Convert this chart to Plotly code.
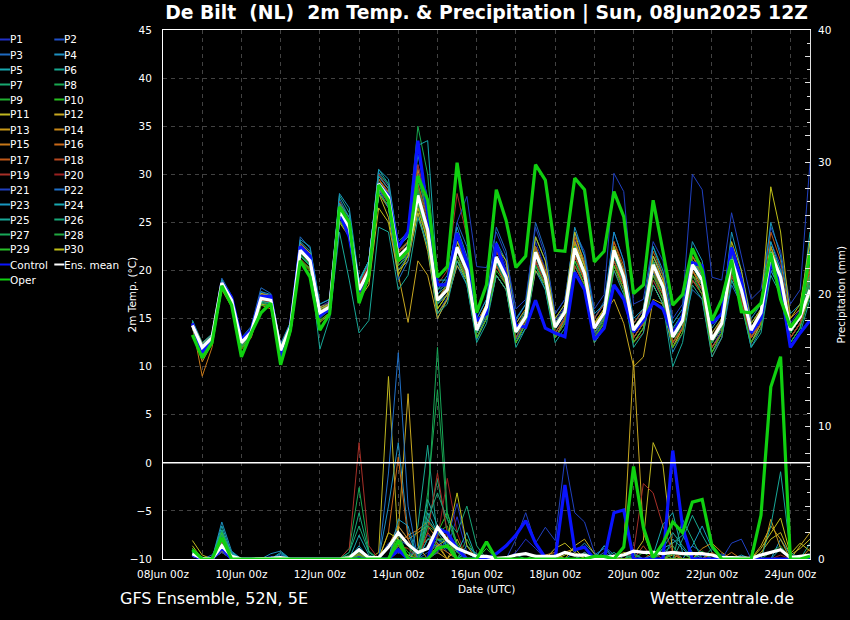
import plotly.graph_objects as go
import pandas as pd

# ---------------- time axis (6-hourly, run 08Jun2025 12Z) ----------------
times = pd.date_range("2025-06-08 18:00", periods=64, freq="6h")

member_names = ["P%d" % k for k in range(1, 31)]
member_colors = [
    "#2030c8", "#2050c8", "#1e6ac0", "#1e90c0", "#18a8b0", "#18a890", "#18a870", "#18a850",
    "#20b030", "#28c020", "#c0b820", "#c8a820", "#c89818", "#c88818", "#c87818", "#c86818",
    "#c05818", "#b84820", "#a83028", "#982020", "#2040c0", "#2070c8", "#1898c0", "#18a8b0",
    "#18a898", "#18a878", "#18a858", "#20a840", "#28c028", "#c0c018",
]

# ---------------- 2m temperature (deg C) ----------------
P01_temp = [14.1,11.6,12.7,18.9, 17.2,12.8,13.9,17.8, 17.3,12.0,14.4,22.9, 21.8,16.2,16.8,27.0, 25.2,18.6,20.4,29.8, 28.5,22.6,23.5,31.0, 26.5,17.5,18.5,23.5, 21.0,14.2,16.5,22.8, 20.5,14.5,15.8,23.0, 20.2,14.8,16.2,23.2, 20.8,15.0,16.5,24.0, 21.0,14.5,15.8,21.5, 19.0,13.8,15.4,22.0, 20.2,13.5,15.0,22.5, 19.2,14.5,16.0,23.0, 20.5,14.5,16.0,21.0]
P02_temp = [14.4,12.3,13.2,18.4, 16.6,12.3,13.4,16.8, 16.5,11.4,13.8,21.6, 20.5,15.2,15.8,25.5, 23.8,17.5,19.6,28.5, 27.0,20.5,21.8,28.5, 25.0,15.5,17.2,21.5, 19.2,13.0,15.4,20.5, 18.5,12.8,14.6,20.8, 18.6,13.5,15.2,21.5, 19.0,13.2,15.0,21.0, 18.5,13.0,14.6,19.8, 17.5,12.4,14.2,19.5, 18.2,12.0,13.8,20.0, 17.2,13.0,14.8,20.5, 18.5,13.0,14.5,17.5]
P03_temp = [14.6,12.2,13.4,19.2, 17.4,13.0,14.2,18.2, 17.6,12.4,14.6,23.5, 22.3,16.5,17.0,27.5, 25.5,19.0,21.0,30.2, 28.8,22.0,22.8,30.0, 25.5,18.0,19.0,25.0, 22.5,15.0,17.0,24.5, 22.0,14.8,16.5,25.0, 22.0,15.5,17.0,24.0, 21.5,15.0,16.8,22.0, 20.0,14.0,15.5,19.0, 17.0,12.5,14.0,18.0, 17.0,11.5,13.0,18.5, 16.5,12.5,14.5,20.0, 18.0,12.5,14.0,22.0]
P04_temp = [14.2,11.8,12.9,18.6, 16.8,12.4,13.5,17.0, 16.8,11.8,14.2,22.0, 20.8,15.0,16.0,26.8, 25.0,18.2,19.5,28.2, 26.5,20.0,21.5,26.0, 22.5,15.0,17.0,20.5, 18.5,12.8,15.0,19.5, 18.0,12.5,14.0,20.0, 18.0,13.0,14.8,20.5, 18.5,13.5,15.0,21.0, 18.8,13.0,14.5,18.5, 16.5,11.5,13.5,19.0, 18.0,12.0,13.5,19.5, 16.8,12.0,14.0,20.0, 18.0,12.5,14.0,23.0]
P05_temp = [14.8,12.5,13.4,19.0, 17.0,12.6,13.6,17.4, 16.9,11.9,14.0,22.4, 21.2,15.8,16.5,26.0, 24.0,17.5,19.8,28.8, 27.8,21.0,22.5,28.2, 24.5,17.0,18.5,23.0, 20.5,14.5,16.5,21.0, 19.0,13.0,15.0,22.5, 19.8,14.5,16.0,23.0, 20.5,14.0,15.5,21.5, 19.0,14.0,15.5,21.5, 19.5,14.0,15.5,21.0, 19.5,13.0,14.5,19.5, 17.0,13.0,15.0,22.5, 20.0,14.0,15.5,18.0]
P06_temp = [14.3,11.9,13.0,18.8, 16.9,12.4,13.3,17.2, 17.2,11.7,14.5,23.0, 22.0,16.0,16.6,27.8, 26.0,18.5,20.8,30.5, 29.0,21.0,21.5,28.5, 24.0,16.5,17.5,21.0, 19.5,13.5,16.0,20.8, 18.8,13.0,15.0,21.0, 19.0,13.5,15.0,21.0, 19.0,13.5,15.2,22.5, 20.0,14.5,16.0,22.5, 19.5,13.5,15.0,21.5, 19.8,13.0,14.0,19.0, 17.0,12.5,14.5,21.0, 19.0,13.0,14.5,20.0]
P07_temp = [14.0,11.4,12.6,18.2, 16.4,12.0,13.2,16.6, 16.4,11.2,13.8,21.5, 20.5,15.4,16.0,25.8, 24.5,18.2,20.2,29.2, 28.0,22.0,23.0,29.0, 25.0,17.5,18.5,23.5, 21.0,14.0,16.2,22.0, 20.0,14.0,15.8,21.5, 19.0,14.0,15.5,22.5, 19.5,13.5,15.0,20.5, 18.5,13.5,15.0,21.0, 18.5,13.0,14.5,20.0, 18.5,12.5,14.5,22.5, 19.0,14.5,16.0,21.5, 19.0,13.5,15.0,19.5]
P08_temp = [14.4,12.1,13.1,18.9, 17.1,12.7,13.8,17.4, 17.0,11.9,14.3,22.6, 21.4,16.0,16.6,27.2, 25.5,18.8,21.0,30.0, 29.0,23.0,24.0,35.0, 30.0,18.0,18.5,23.0, 20.5,13.5,15.5,21.5, 19.5,13.5,15.5,22.0, 19.5,14.0,15.8,22.0, 19.0,13.5,15.0,21.5, 19.0,13.0,14.5,20.0, 18.0,12.5,14.0,19.5, 18.5,12.5,14.5,21.5, 18.5,14.0,15.5,21.0, 18.5,13.5,15.0,18.5]
P09_temp = [14.1,11.7,12.8,18.5, 16.7,12.3,13.5,17.0, 16.6,11.5,13.9,21.8, 20.6,15.2,15.9,25.6, 23.8,17.6,19.6,28.0, 26.8,21.0,22.0,27.0, 23.5,16.5,18.0,22.0, 19.5,13.5,15.5,20.5, 18.8,13.5,15.0,21.0, 18.5,13.5,15.0,21.5, 19.0,13.0,14.8,21.0, 19.0,13.5,15.0,20.0, 17.5,12.5,14.5,20.5, 18.5,12.5,14.0,21.0, 18.0,13.5,15.0,22.0, 19.5,14.0,15.5,18.5]
P10_temp = [14.5,12.2,13.2,18.8, 17.0,12.7,13.7,17.0, 17.0,11.8,14.2,22.3, 21.2,15.8,16.3,26.4, 24.6,18.0,20.0,28.8, 27.2,21.5,22.5,28.0, 24.0,17.0,18.5,23.0, 20.5,14.0,16.0,21.5, 19.5,13.8,15.5,22.5, 20.0,14.5,16.0,22.8, 20.0,14.5,16.0,22.5, 19.5,14.0,15.5,21.0, 18.5,13.5,15.0,21.0, 19.5,13.0,15.0,21.5, 18.5,14.0,16.0,22.0, 19.5,14.0,15.5,18.5]
P11_temp = [14.2,11.5,12.9,18.3, 16.4,12.2,13.3,16.5, 16.3,11.0,13.6,21.0, 20.0,14.6,15.5,25.0, 23.5,17.0,19.0,28.0, 25.5,20.0,21.0,26.0, 22.0,15.5,17.0,21.0, 19.0,13.0,15.0,19.5, 18.0,12.5,14.5,20.0, 18.5,13.0,14.5,20.5, 18.5,12.5,14.0,20.5, 18.0,12.5,14.0,18.5, 16.5,12.0,14.0,19.0, 17.5,11.5,13.5,19.5, 17.0,12.5,14.5,20.5, 18.0,13.0,14.5,17.5]
P12_temp = [14.6,12.4,13.3,18.9, 17.1,12.8,13.9,17.6, 17.4,12.1,14.5,22.8, 21.8,16.2,16.6,26.8, 25.0,18.5,20.5,29.5, 28.0,19.6,14.6,21.0, 19.5,15.0,17.0,20.5, 19.0,13.5,15.5,21.0, 19.5,13.5,15.0,22.0, 20.0,14.5,16.0,23.0, 20.5,14.5,15.5,17.0, 14.5,10.0,11.0,17.0, 16.5,12.0,14.0,20.0, 18.5,12.5,14.5,21.5, 18.0,13.5,15.0,22.5, 19.5,13.5,15.0,19.5]
P13_temp = [14.3,12.0,13.0,18.7, 17.0,12.5,13.6,17.3, 17.1,11.8,14.3,22.5, 21.3,15.8,16.4,26.8, 24.8,18.2,20.3,29.5, 28.0,21.8,23.0,30.5, 26.0,17.5,18.5,22.5, 20.0,13.5,15.8,21.5, 19.5,13.5,15.0,22.5, 19.5,14.0,15.5,23.0, 20.0,13.5,15.0,22.5, 19.5,13.5,15.0,21.0, 18.5,13.0,14.5,21.5, 19.5,12.5,14.0,22.0, 18.5,13.5,15.5,22.5, 19.5,13.5,15.0,18.0]
P14_temp = [14.0,10.5,12.4,18.0, 16.2,11.8,13.0,16.4, 16.0,10.8,13.5,21.2, 20.2,14.8,15.6,25.2, 23.5,17.2,19.2,28.0, 26.5,20.8,21.8,27.0, 23.0,16.0,17.5,21.5, 19.0,13.0,15.0,20.5, 18.5,12.5,14.5,21.0, 18.5,13.0,15.0,21.5, 19.0,13.0,14.5,20.5, 18.5,12.5,14.0,19.5, 17.5,12.5,14.0,20.0, 18.0,12.0,13.5,20.0, 17.5,13.0,14.5,21.0, 18.5,13.0,14.5,19.5]
P15_temp = [14.4,9.0,12.0,18.2, 16.5,12.0,13.2,16.8, 16.6,11.3,13.9,22.0, 21.0,15.5,16.2,26.5, 25.0,18.5,20.5,29.0, 27.0,21.5,22.5,28.5, 25.0,17.0,18.0,22.5, 20.0,14.0,16.0,22.0, 20.0,14.0,15.5,22.0, 19.5,14.5,16.0,22.5, 20.0,14.5,16.0,23.0, 20.0,14.0,15.5,21.0, 19.0,13.5,15.0,21.0, 19.5,13.0,14.5,21.5, 18.5,14.0,15.5,22.0, 19.5,14.0,15.5,20.5]
P16_temp = [14.2,11.8,12.9,18.6, 16.8,12.4,13.5,17.0, 17.0,11.6,14.0,22.2, 21.0,15.5,16.2,26.0, 24.0,17.8,19.8,28.5, 27.5,21.0,22.0,27.5, 24.5,17.0,18.5,23.5, 21.0,14.5,16.5,22.5, 20.0,14.0,15.5,21.5, 19.0,13.5,15.0,21.5, 19.0,13.5,15.0,21.0, 18.5,13.0,14.5,20.0, 18.0,12.5,14.0,20.0, 18.5,12.5,14.0,20.5, 17.5,13.0,15.0,21.5, 19.0,13.5,15.0,19.0]
P17_temp = [14.5,12.1,13.1,18.8, 17.0,12.6,13.7,17.2, 17.0,11.8,14.2,22.4, 21.5,16.0,16.5,27.0, 25.0,18.5,20.5,29.5, 28.2,22.0,23.0,29.0, 25.5,17.5,18.5,23.0, 20.5,14.0,16.0,22.0, 20.0,14.0,15.5,22.5, 20.0,14.5,16.0,23.5, 21.0,15.0,16.5,23.0, 20.5,14.5,16.0,22.0, 19.5,13.5,15.0,21.5, 20.0,13.0,15.0,22.0, 19.0,14.0,16.0,24.0, 21.0,15.0,16.0,20.0]
P18_temp = [14.3,12.0,13.0,18.7, 16.9,12.5,13.6,17.1, 16.8,11.6,14.0,22.0, 20.8,15.4,16.0,26.0, 24.0,17.5,19.5,28.5, 27.0,20.5,21.5,27.0, 23.5,16.5,17.5,21.5, 19.5,13.5,15.5,20.5, 18.5,13.0,14.8,21.0, 18.5,13.5,15.0,21.5, 19.0,13.5,15.0,21.0, 18.5,13.0,14.5,19.5, 17.5,12.5,14.0,19.5, 18.0,12.0,13.5,20.0, 17.0,13.0,14.5,21.0, 18.5,13.0,14.5,18.0]
P19_temp = [14.1,11.6,12.8,18.5, 16.7,12.3,13.4,16.9, 16.7,11.5,13.9,21.9, 21.0,15.6,16.3,26.5, 25.0,18.5,20.5,30.0, 28.5,22.5,23.5,31.0, 27.0,18.5,20.0,28.0, 23.5,14.5,16.5,22.0, 20.0,13.5,15.0,21.0, 18.5,13.0,14.5,20.5, 18.5,13.0,14.5,20.0, 18.0,12.5,13.5,19.0, 17.0,12.0,13.5,19.0, 17.5,11.0,13.0,19.5, 17.0,12.5,14.0,21.0, 18.5,13.0,14.5,18.5]
P20_temp = [14.4,12.2,13.2,18.9, 17.2,12.8,13.8,17.5, 17.3,12.0,14.4,22.7, 21.7,16.0,16.7,27.2, 25.2,18.5,20.5,29.8, 28.5,22.0,22.5,28.5, 25.0,17.5,18.5,22.0, 20.0,14.0,16.0,21.5, 19.5,13.5,15.0,22.0, 19.5,14.0,15.5,22.0, 19.5,14.0,15.5,22.0, 19.5,13.5,15.0,20.5, 18.5,13.0,14.5,20.5, 19.0,12.5,14.0,21.0, 18.0,13.5,15.0,21.5, 19.0,13.5,15.0,19.0]
P21_temp = [14.2,11.8,12.9,18.6, 16.9,12.5,13.6,17.3, 17.0,11.8,14.2,22.3, 21.2,15.6,16.4,26.5, 24.5,18.0,20.0,29.0, 27.5,21.5,22.5,28.0, 24.5,17.5,19.0,25.0, 27.7,20.4,20.3,24.0, 21.5,16.0,17.0,24.5, 21.5,15.5,17.0,24.0, 22.0,16.0,17.5,30.1, 28.2,16.5,17.0,23.0, 21.0,15.0,16.5,30.0, 28.4,19.3,19.0,26.0, 21.5,17.0,18.0,24.5, 22.0,16.5,18.0,31.2]
P22_temp = [14.3,11.9,13.0,18.6, 16.8,12.4,13.5,17.0, 17.0,11.7,14.1,22.0, 21.0,15.5,16.0,26.5, 24.5,18.0,19.8,28.5, 26.5,19.0,21.0,27.0, 24.0,16.5,17.5,22.0, 20.0,13.5,15.5,21.5, 19.0,13.5,15.0,21.5, 19.0,14.0,15.5,22.0, 19.5,14.0,15.5,22.0, 19.0,13.5,15.0,20.5, 18.0,13.0,14.5,20.5, 19.0,12.5,14.5,21.0, 18.0,13.5,15.5,21.5, 19.0,13.5,15.0,19.0]
P23_temp = [14.5,12.3,13.3,19.0, 17.2,12.9,14.0,17.8, 17.5,12.2,14.6,23.2, 22.5,16.5,17.0,28.0, 26.5,19.0,21.0,30.5, 29.5,22.5,23.5,32.0, 27.5,18.0,19.5,24.5, 21.5,15.0,17.0,23.0, 21.0,15.0,16.5,23.5, 21.0,15.0,16.5,24.5, 21.5,15.5,16.5,24.0, 21.0,15.0,16.0,22.5, 20.0,14.5,16.0,23.0, 21.0,14.0,15.5,24.0, 20.0,15.0,16.5,25.0, 21.5,15.5,16.5,22.0]
P24_temp = [14.6,12.2,13.2,18.8, 17.0,12.6,13.7,17.3, 17.2,12.0,14.3,22.6, 21.5,16.0,16.6,27.0, 25.5,18.8,21.0,29.8, 28.5,22.5,23.5,33.0, 33.5,19.0,19.0,24.0, 20.5,14.0,16.0,21.5, 19.5,13.5,15.0,22.0, 19.5,14.5,16.0,22.5, 20.0,14.0,15.5,22.0, 19.5,13.5,15.0,21.0, 18.5,13.0,14.5,21.0, 19.5,12.5,14.5,21.5, 18.5,14.0,15.5,23.0, 20.0,14.0,15.5,24.0]
P25_temp = [14.8,12.0,13.0,18.5, 16.6,12.2,13.3,16.8, 16.6,11.4,13.8,21.5, 20.5,11.8,15.0,24.0, 19.0,13.5,14.8,24.5, 24.0,18.0,19.5,25.5, 22.5,15.5,16.5,21.0, 18.5,12.5,14.5,19.5, 18.0,12.0,14.0,20.5, 18.0,12.5,14.0,20.0, 18.0,12.5,14.0,20.0, 17.5,12.0,13.5,18.5, 16.5,10.0,12.5,18.5, 17.0,11.0,13.0,19.0, 16.5,12.0,13.5,19.5, 17.5,12.0,13.5,17.0]
P26_temp = [14.2,11.7,12.8,18.6, 16.8,12.4,13.5,17.1, 16.8,11.6,14.0,22.2, 21.0,15.5,16.2,26.2, 24.5,18.0,20.0,29.0, 27.5,21.0,22.0,28.0, 24.0,16.5,18.0,22.5, 20.0,13.5,15.5,21.0, 19.0,13.5,15.0,21.5, 19.0,14.0,15.5,22.0, 19.5,13.5,15.0,21.5, 19.0,13.5,15.0,20.5, 18.0,13.0,14.5,20.5, 18.5,12.5,14.0,20.5, 17.5,13.5,15.0,21.5, 19.0,13.5,15.0,18.5]
P27_temp = [14.0,11.3,12.6,18.3, 16.5,12.1,13.3,16.7, 16.4,11.3,13.8,21.6, 20.5,15.2,16.0,25.8, 24.2,17.8,19.8,28.6, 27.5,21.5,22.5,29.5, 26.0,17.5,18.5,23.5, 20.5,14.0,16.0,21.5, 19.5,13.8,15.5,22.0, 19.5,14.0,15.5,22.5, 20.0,14.0,15.5,22.5, 19.5,14.0,15.5,21.0, 18.5,13.5,15.0,21.0, 19.0,13.0,14.5,21.5, 18.0,14.0,15.5,22.0, 19.5,14.0,15.5,19.5]
P28_temp = [14.3,12.0,13.1,18.8, 17.0,12.6,13.6,17.1, 17.0,11.7,14.1,22.2, 21.1,15.7,16.3,26.4, 24.6,18.1,20.1,29.1, 27.8,21.6,22.6,28.5, 24.5,17.0,18.0,22.5, 20.0,14.0,16.0,21.5, 19.5,13.5,15.5,22.0, 19.5,14.0,15.5,22.5, 20.0,14.0,15.5,22.0, 19.5,13.5,15.0,20.5, 18.5,13.0,14.5,20.5, 19.0,12.5,14.5,21.0, 18.0,13.5,15.5,21.5, 19.5,13.5,15.0,19.0]
P29_temp = [14.1,11.2,12.5,18.2, 16.4,11.9,13.1,16.4, 16.2,10.8,13.4,21.0, 20.2,14.8,15.6,25.2, 23.6,17.2,19.2,28.0, 26.8,20.5,21.5,27.0, 23.0,16.0,17.5,21.5, 19.0,13.0,15.0,20.0, 18.5,12.5,14.5,20.5, 18.5,13.0,14.5,21.0, 18.5,13.0,14.5,20.5, 18.0,12.5,14.0,19.5, 17.0,12.0,13.5,19.5, 17.5,11.5,13.5,20.0, 16.5,12.5,14.0,20.5, 18.0,12.5,14.0,17.5]
P30_temp = [14.5,12.1,13.2,18.8, 17.1,12.7,13.8,17.6, 17.3,12.0,14.4,22.6, 21.5,16.0,16.5,26.5, 24.0,17.0,18.5,26.5, 25.0,19.5,21.5,26.5, 23.0,16.0,17.5,23.0, 21.0,14.5,16.5,22.5, 21.0,14.5,16.0,23.5, 21.0,15.0,16.5,24.0, 20.5,14.5,16.0,22.5, 19.5,14.0,15.5,21.5, 19.0,13.5,15.0,22.0, 20.5,13.5,15.0,23.0, 20.0,14.5,16.0,28.7, 24.0,15.0,16.5,23.0]

control_temp = [14.5,11.5,12.8,18.7, 17.2,12.8,13.8,17.3, 17.3,11.0,14.2,22.5, 21.5,15.3,16.0,26.0, 23.5,17.8,20.0,29.0, 27.8,22.4,24.0,33.5, 26.0,18.5,18.5,23.9, 20.8,14.8,15.5,22.8, 19.5,14.3,14.1,16.9, 14.0,13.5,13.1,19.8, 18.0,12.8,14.0,18.5, 17.0,13.6,14.8,16.7, 16.0,13.3,15.2,20.8, 20.5,14.5,15.5,22.4, 19.0,13.5,15.0,20.8, 18.5,12.0,13.5,14.8]
oper_temp = [13.3,10.9,12.5,18.4, 16.4,11.0,13.5,15.6, 16.6,10.2,13.8,21.0, 19.3,13.8,15.5,26.6, 25.0,16.6,19.5,28.9, 27.3,21.0,22.1,29.8, 27.3,19.3,20.4,31.2, 24.2,15.6,18.5,28.4, 25.2,20.3,21.5,31.0, 29.4,22.1,22.0,29.6, 28.4,20.9,22.0,28.2, 25.6,17.6,18.5,27.3, 22.0,16.4,17.5,22.3, 20.0,14.8,17.0,21.1, 15.7,15.6,16.6,21.8, 17.0,14.1,15.5,21.8]
mean_temp = [14.3,12.0,13.0,18.7, 16.9,12.5,13.6,17.1, 16.9,11.7,14.1,22.1, 21.0,15.6,16.2,26.3, 24.5,18.0,20.0,29.0, 27.6,21.4,22.4,27.8, 24.2,16.9,18.0,22.4, 20.0,13.8,16.2,21.4, 19.3,13.6,15.2,21.9, 19.3,14.1,15.7,22.3, 19.7,14.0,15.6,22.1, 19.3,13.8,15.2,20.6, 18.3,13.1,14.8,20.6, 19.0,12.8,14.5,21.1, 18.0,13.8,15.6,21.8, 19.3,13.8,15.2,18.0]

# ---------------- precipitation (mm / 6h) ----------------
P01_prec = [0.3,0,0,1.2, 0.2,0,0,0, 0.2,0,0,0, 0,0,0,0,
            0,0,0,0, 0,0.5,0.2,0.8, 1.8,1.2,0.8,3.2, 0.5,0,0.2,0,
            0,0.5,1.5,0.8, 0,0,0,0, 0.3,0,0,0, 0,0.5,0,0,
            0,0.5,0,0, 0.3,0,0,0, 0,0,0,0, 0,0,0,0]
P02_prec = [0.2,0,0,0.8, 0,0,0,0, 0,0,0,0, 0,0,0,0,
            0,0,0,0, 1.2,1.5,1.0,0, 0.5,1.0,1.0,0, 0,0,0,0,
            0,0,0,0, 0.3,0,0,0, 0,0,0.5,0, 0,0,0,0,
            0,0,0,0, 0,0,0.4,0, 0,0,0,0, 0,0,0,0]
P03_prec = [0.5,0,0.3,1.5, 0.4,0,0,0, 0,0.3,0,0, 0,0,0,0,
            0,0.3,0,0, 0,2.5,1.5,0, 0,1.5,0.5,0, 0,0,0,0,
            0,0,0,0, 0,0,0,0, 0,0,1.0,0.3, 0,0,0,0,
            0,0,0,1.0, 0.5,0,0,0, 0,0,0,0, 0,0,0,0]
P04_prec = [0.4,0,0,2.8, 0.6,0,0,0, 0.4,0.6,0,0, 0,0,0,0,
            0,0.5,0,0, 4.0,8.8,2.0,0, 1.0,1.0,1.0,0, 0,0,0,0,
            0,0,0,0, 0,0,0,0.5, 1.2,0.4,0,0, 0,0,0,0,
            0,1.5,0.8,0, 0,0,0,0, 0,0,0,0, 1.5,0.3,0,0]
P05_prec = [0.3,0,0,2.2, 0.3,0,0,0, 0,0.5,0,0, 0,0,0,0,
            0,0.4,0,0, 0,1.5,0,0, 3.5,2.0,1.5,0, 0.5,0,0,0,
            0,0,0,0, 0,0.3,0,0, 0,0,0,0, 0,0,0,0,
            0.8,1.2,1.8,0.5, 0,0,0,0, 0,0,0,0, 0,0,0,0]
P06_prec = [0.2,0,0,1.8, 0.5,0,0,0, 0,0,0,0, 0,0,0,0,
            0,0.2,0,0, 0,0,0,2.5, 8.6,1.5,1.2,0, 0,0,0,0,
            0,0,0,0, 0,0,0,0, 0,0,0,0, 0.4,0,0,0,
            0,0,1.5,3.3, 1.8,0.5,0,0, 0,0,0,0, 0,0,0,0]
P07_prec = [0.6,0,0,2.0, 0,0,0,0, 0,0,0,0, 0,0,0,0,
            0.5,2.5,0.5,0, 0,1.2,0,0, 2.5,6.0,2.0,0.5, 0,0,0,0,
            0,0.3,0,0, 0,0,0,0, 0,0,0,0, 0,0,0,0,
            0.5,1.0,0,0, 0,0.8,0.2,0, 0,0,0,0, 0,0,0,0]
P08_prec = [0.4,0,0,1.6, 0.2,0,0,0, 0,0,0,0, 0,0,0,0,
            0.8,5.4,0.6,0, 0,2.0,0,0, 5.0,12.8,3.0,1.0, 0,0,0,0,
            0,0,0,0, 0,0,0,0, 0,0,0,0, 0,0.3,0,0,
            0,0,0.5,0, 0,0,0,0, 0,0,0,0.5, 1.0,0,0,0]
P09_prec = [0.5,0,0,1.4, 0,0,0,0, 0,0,0,0, 0,0,0,0,
            0,0.3,0,0, 0,2.0,1.0,0, 1.5,2.0,2.5,0, 1.5,0,1.3,0,
            0,0,0,0, 0,0,0,0, 0,0.2,0,0, 0,0,0,0,
            0,0,0,0, 0.6,0,0,0, 0,0,0,0, 0,0,0,0]
P10_prec = [0.7,0,0,1.6, 0.3,0,0,0, 0,0,0,0, 0,0,0,0,
            0,0.2,0,0, 0,1.5,0.5,0, 0,2.0,3.5,1.2, 0,0,1.3,0,
            0,0,0,0, 0,0,0,0, 0,0,0,0, 0,0,0.5,0,
            0,0.6,0,0, 0,0,0,0, 0,0,0,0, 0,0,0,0]
P11_prec = [1.4,0.3,0,0.6, 0,0,0,0, 0,0,0,0, 0,0,0,0,
            0,0,0,0.5, 13.8,1.0,0.3,0, 0,1.0,0,1.5, 0,0,0,0,
            0,0,0,0, 0,0.8,1.2,0.5, 0,0,0,0, 0.5,0.3,1.4,8.8,
            7.1,0.5,0,0, 0,0,0,0, 0,0,0.5,1.5, 2.0,0.3,0.8,1.5]
P12_prec = [0.8,0,0,0.5, 0,0,0,0, 0,0,0,0, 0,0,0,0,
            0,0,0,0, 0,2.0,12.5,1.0, 0,0.5,0,0.8, 0,0,0,0,
            0,0,0,0, 0,0,0,1.0, 1.5,0.4,0,0, 1.0,15.0,2.0,0,
            0,0.3,0,0, 0,0,0,0, 0,0,1.0,2.5, 1.5,0,1.0,2.0]
P13_prec = [0.6,0,0,0.8, 0,0,0,0, 0,0,0,0, 0,0,0,0,
            0,0.3,0,0, 0,1.5,0,0.8, 1.5,1.2,0,0, 0,0,0,0,
            0,0,0,0, 0,0,0.5,0.8, 0,0,0,0, 0,0,0,0,
            0,0,0,0, 0,0.4,0,0, 0,0,0,3.0, 0.8,0,0,0]
P14_prec = [0.3,0,0,1.0, 0,0,0,0, 0,0,0,0, 0,0,0,0,
            0,0,0,0, 1.0,2.5,1.5,2.0, 2.5,1.5,1.5,0, 0,0,0,0,
            0,0,0,0, 0.3,0.5,0,0, 0,0,0,0, 0,0,0,0,
            0,0,0,0, 0.8,1.2,0.5,0, 0,0,0,0, 0,0,0,0.8]
P15_prec = [0.5,0,0,0.9, 0,0,0,0, 0,0,0,0, 0,0,0,0,
            0,0,0,0, 0,1.2,1.8,2.2, 2.8,2.0,2.0,0.6, 0,0,0,0,
            0,0,0,0, 0,0,0,0, 0.5,0,0,0, 0,0,0,0,
            0,0,0,0, 0,0,0,0.5, 0,0,0,0, 0,0,0,0]
P16_prec = [0.2,0,0,1.3, 0,0,0,0, 0,0,0,0, 0,0,0,0,
            0,0.4,0,0, 2.0,7.7,1.5,0, 0,1.0,0.5,0, 0,0,0,0,
            0,0,0,0, 0,0,0,0, 0,0,0,0, 0,0,0,0,
            0,0,0.5,0, 0,0,0,0, 0,0,0,0, 0,0,0,0]
P17_prec = [0.4,0,0,0.7, 0,0,0,0, 0,0,0,0, 0,0,0,0,
            0,0.3,0,0, 0,1.0,0,0, 2.0,1.0,1.0,0, 0,0,0,0,
            0,0,0,0, 0,0,0,0, 0,0,0,0, 0,0,0,0.5,
            0,0,0,0, 0,0.5,0,0, 0,0,0,0, 0,0,0,0]
P18_prec = [0.3,0,0,1.1, 0,0,0,0, 0,0,0,0, 0,0,0,0,
            0,0.5,0,0, 0,1.0,0.8,0, 0,2.0,1.8,0, 0,0,0,0,
            0,0,0,0, 0,0,0,0, 0,0,0,0, 0,0,1.0,0,
            0,0.5,0,0, 0,0,0,0, 0,0,0,0, 0,0,0,0]
P19_prec = [0.2,0,0,0.9, 0,0,0,0, 0,0,0,0, 0,0,0,0,
            0.8,8.8,1.0,0, 0,1.5,0,0, 2.0,6.5,2.0,0, 0,0,0,0,
            0,0,0,0, 0,0,0,0, 0,0,0,0, 0,0.5,5.7,5.0,
            2.5,0.5,0,0, 0,0,0,0, 0,0,0,0, 0,0,0,0]
P20_prec = [0.3,0,0,1.5, 0,0,0,0, 0,0,0,0, 0,0,0,0,
            0,0.6,0,0, 0,1.0,0,0, 0,1.5,6.1,2.0, 0,0,0,0,
            0,0,0,0, 0,0,0,0, 0,0,0,0.3, 0,0,0,0,
            0,0,0,0, 0,0,0,0, 0,0,0,0, 0.3,0,0,0]
P21_prec = [0.3,0,0,0.5, 0,0,0,0, 0,0,0,0, 0,0,0,0,
            0,0.2,0,0, 0,0.8,0,0, 0,0.5,1.5,4.2, 1.0,0.3,0,0,
            0,1.5,3.5,1.2, 2.4,1.4,7.6,3.5, 2.8,0.5,0,0, 0,0,0,0,
            0,0,0,0, 0,0,0,1.2, 1.5,0,0,0, 0,0,0,0]
P22_prec = [0.4,0,0,1.8, 0.3,0,0,0, 0,0,0,0, 0,0,0,0,
            0,0.8,0,0, 6.5,15.6,4.0,0, 1.0,1.0,0.8,0, 0,0,0,0,
            0,0,0,0, 0,0,0,0, 0,0.3,0.8,0, 0,0,0,0,
            0,0,0,0, 0,0,0.3,0, 0,0,0,0, 0,0,0,0]
P23_prec = [0.5,0,0,1.9, 0.5,0,0,0, 0,0.4,0,0, 0,0,0,0,
            0,1.0,0,0, 0,3.0,2.5,0, 1.5,1.5,1.0,0, 0.5,0,0,0,
            0,0,0,0, 0,0,0,0, 0.5,0,1.0,0, 0,0,0,0,
            0,0,0,1.0, 2.5,0.8,0,0, 0.3,0,0,0, 0,0,0,0]
P24_prec = [0.5,0,0,2.5, 0.4,0,0,0, 0,0,0,0, 0,0,0,0,
            0,1.8,0.3,0, 0,1.5,0,0.8, 4.5,2.5,2.0,0.5, 2.0,0,0,0,
            0,0,0,0, 0,0,0,0, 0,0,0,0, 0,0,0,0.3,
            2.6,3.5,0.5,0, 0,0,0,0, 0,0,0,0, 0.8,0,0,0]
P25_prec = [0.3,0,0,2.0, 0,0,0,0, 0,0,0,0, 0,0,0,0,
            0,0.8,0,0, 0,0,0,0, 3.0,2.0,1.0,0, 1.0,0.4,0,0,
            0,0,0,0, 0,0,0,0, 0,0,0,0.5, 0,0,0,0,
            0.8,2.0,1.0,0, 0,0,0,0, 0,0,0,2.5, 6.6,0.5,0,1.2]
P26_prec = [0.4,0,0,2.2, 0,0,0,0, 0,0,0,0, 0,0,0,0,
            0.5,3.5,0.5,0, 0,0,0,0, 3.0,5.0,3.0,2.0, 4.0,1.0,0,0,
            0,0,0,0, 0,0,0,0, 0,0,0,0, 0,0.4,0,0,
            0,0,3.0,1.5, 0,0,0,0, 0,0,0,0, 0,0,0,0]
P27_prec = [0.5,0,0,1.8, 0,0,0,0, 0,0,0,0, 0,0,0,0,
            0.3,0.6,0,0, 0,1.5,0,0, 4.0,16.0,3.5,1.0, 0,0,0,0,
            0,0,0,0, 0,0,0,0, 0,0,0,0, 0.3,0,0,0,
            0,0,0,0, 0.5,0,0,0, 0,0,0,0, 0,0,0,0]
P28_prec = [0.6,0,0,1.5, 0,0,0,0, 0,0,0,0, 0,0,0,0,
            0,0.5,0,0, 0,2.0,0,0, 2.5,2.0,2.0,0, 0,0,0,0,
            0,0,0,0, 0,0,0,0, 0,0,0,0, 0,0,0,0,
            0.5,0,0,0, 0,0,0,0, 0,0,0,0, 0,0,0,0]
P29_prec = [0.8,0,0,2.0, 0.3,0,0,0, 0,0,0,0, 0,0,0,0,
            0,0.3,0,0, 0,1.0,0,0, 0,1.5,1.5,0, 0,0,0.8,0,
            0,0,0,0.3, 0,0,0,0, 0,0,0,0, 0,0,0,0,
            0,0.4,0.4,0, 0,0,0,0, 0,0,0,0, 0,0,0,0]
P30_prec = [1.0,0,0,0.7, 0,0,0,0, 0,0,0,0, 0,0,0,0,
            0,0,0,0, 2.0,1.5,0,0, 0,1.0,1.5,5.0, 1.0,0,0,0,
            0,0,0,0, 0,0,0.3,0.8, 0,0,0,0, 0,0,0,0,
            0,0,0,0, 0,0,0,0, 0,0,0.8,2.0, 3.1,0.4,1.2,0.6]

control_prec = [0.3,0,0,0.8, 0,0,0,0, 0,0,0,0, 0,0,0,0,
                0,0,0,0, 0,0.7,0,0, 0,2.3,2.0,0.8, 0,0,0,0.4,
                1.0,1.8,2.9,1.2, 0.1,0,5.6,0.7, 0.9,0,0,3.5, 3.7,0,0,0,
                0,8.2,2.4,0, 0,0,0,0, 0,0,0,0, 0,0,0,0]
oper_prec = [0.7,0,0,1.6, 0,0,0,0, 0,0,0,0, 0,0,0,0,
             0,0,0,0, 0,1.4,0,0, 0,0.8,1.0,0, 0,0,1.3,0,
             0,0,0,0, 0,0,0,0, 0,0.2,0.2,0, 0.9,7.0,2.4,0.1,
             1.2,2.8,2.0,4.3, 4.5,1.0,0,0, 0,0,3.3,13.0, 15.3,0,0,0.2]
mean_prec = [0.4,0.05,0.02,1.0, 0.2,0,0,0, 0.05,0.1,0,0, 0,0,0,0,
             0.1,0.7,0.1,0.1, 0.9,2.0,1.1,0.5, 0.8,2.4,1.4,0.8, 0.5,0.2,0.2,0.05,
             0.1,0.3,0.4,0.2, 0.2,0.2,0.5,0.3, 0.3,0.05,0.1,0.2, 0.3,0.6,0.5,0.5,
             0.4,0.5,0.4,0.4, 0.4,0.3,0.1,0.1, 0.1,0.05,0.3,0.5, 0.7,0.1,0.2,0.3]

# precipitation-axis tick marks: every 2 mm (labelled every 10 mm), minor every 1 mm
prec_tickvals = list(range(0, 41, 2))
prec_ticktext = [str(v) if v % 10 == 0 else "" for v in prec_tickvals]

member_temps = [P01_temp, P02_temp, P03_temp, P04_temp, P05_temp, P06_temp, P07_temp, P08_temp,
                P09_temp, P10_temp, P11_temp, P12_temp, P13_temp, P14_temp, P15_temp, P16_temp,
                P17_temp, P18_temp, P19_temp, P20_temp, P21_temp, P22_temp, P23_temp, P24_temp,
                P25_temp, P26_temp, P27_temp, P28_temp, P29_temp, P30_temp]
member_precs = [P01_prec, P02_prec, P03_prec, P04_prec, P05_prec, P06_prec, P07_prec, P08_prec,
                P09_prec, P10_prec, P11_prec, P12_prec, P13_prec, P14_prec, P15_prec, P16_prec,
                P17_prec, P18_prec, P19_prec, P20_prec, P21_prec, P22_prec, P23_prec, P24_prec,
                P25_prec, P26_prec, P27_prec, P28_prec, P29_prec, P30_prec]

CONTROL_C, MEAN_C, OPER_C = "#0a14ff", "#ffffff", "#10d010"

# ---------------- figure ----------------
fig = go.Figure()

for name, col, t in zip(member_names, member_colors, member_temps):
    fig.add_trace(go.Scatter(x=times, y=t, mode="lines", name=name, showlegend=False,
                             line=dict(color=col, width=1), yaxis="y", hoverinfo="skip"))
fig.add_trace(go.Scatter(x=times, y=control_temp, mode="lines", name="Control", showlegend=False,
                         line=dict(color=CONTROL_C, width=3.2), yaxis="y"))
fig.add_trace(go.Scatter(x=times, y=mean_temp, mode="lines", name="Ens. mean", showlegend=False,
                         line=dict(color=MEAN_C, width=3.2), yaxis="y"))
fig.add_trace(go.Scatter(x=times, y=oper_temp, mode="lines", name="Oper", showlegend=False,
                         line=dict(color=OPER_C, width=3.2), yaxis="y"))

for name, col, p in zip(member_names, member_colors, member_precs):
    fig.add_trace(go.Scatter(x=times, y=p, mode="lines", name=name + " precip", showlegend=False,
                             line=dict(color=col, width=1), yaxis="y2", hoverinfo="skip"))
fig.add_trace(go.Scatter(x=times, y=control_prec, mode="lines", name="Control precip", showlegend=False,
                         line=dict(color=CONTROL_C, width=3.2), yaxis="y2"))
fig.add_trace(go.Scatter(x=times, y=mean_prec, mode="lines", name="Ens. mean precip", showlegend=False,
                         line=dict(color=MEAN_C, width=3.2), yaxis="y2"))
fig.add_trace(go.Scatter(x=times, y=oper_prec, mode="lines", name="Oper precip", showlegend=False,
                         line=dict(color=OPER_C, width=3.2), yaxis="y2"))

# ---------------- layout geometry (pixels) ----------------
W, H = 850, 620
L, R, T, B = 163, 810, 30, 559

def xp(px):
    return (px - L) / (R - L)

def yp(py):
    return (B - py) / (B - T)

GRID = "#424242"
FONT = "DejaVu Sans"

shapes = []
annotations = []

# manual two-column legend
legend_entries = list(zip(member_names, member_colors)) + [("Control", CONTROL_C), ("Ens. mean", MEAN_C), ("Oper", OPER_C)]
for k, (name, col) in enumerate(legend_entries):
    row, c = divmod(k, 2)
    y_row = 39.5 + 15 * row
    x0 = 0 if c == 0 else 54.3
    shapes.append(dict(type="line", xref="paper", yref="paper",
                       x0=xp(x0), x1=xp(x0 + 10), y0=yp(y_row), y1=yp(y_row),
                       line=dict(color=col, width=2)))
    annotations.append(dict(text=name, xref="paper", yref="paper", x=xp(x0 + 8), y=yp(y_row),
                            xanchor="left", yanchor="middle", showarrow=False,
                            font=dict(family=FONT, size=10.5, color="white")))

# zero line of the temperature axis
shapes.append(dict(type="line", xref="paper", yref="y", x0=0, x1=1, y0=0, y1=0,
                   line=dict(color="white", width=1.6), layer="above"))

# axis titles
annotations.append(dict(text="2m Temp. (°C)", xref="paper", yref="paper", x=xp(131), y=0.5,
                        xanchor="center", yanchor="middle", textangle=-90, showarrow=False,
                        font=dict(family=FONT, size=10.5, color="white")))
annotations.append(dict(text="Precipitation (mm)", xref="paper", yref="paper", x=xp(840), y=0.5,
                        xanchor="center", yanchor="middle", textangle=-90, showarrow=False,
                        font=dict(family=FONT, size=10.5, color="white")))
annotations.append(dict(text="Date (UTC)", xref="paper", yref="paper", x=0.5, y=yp(589),
                        xanchor="center", yanchor="middle", showarrow=False,
                        font=dict(family=FONT, size=10.5, color="white")))

annotations.append(dict(text="GFS Ensemble, 52N, 5E", xref="paper", yref="paper",
                        x=xp(118), y=yp(598), xanchor="left", yanchor="middle", showarrow=False,
                        font=dict(family=FONT, size=16, color="white")))
annotations.append(dict(text="Wetterzentrale.de", xref="paper", yref="paper",
                        x=xp(648), y=yp(598), xanchor="left", yanchor="middle", showarrow=False,
                        font=dict(family=FONT, size=16, color="white")))

title_txt = "<b>De Bilt\u00a0\u00a0(NL)\u00a0\u00a02m Temp. &amp; Precipitation | Sun, 08Jun2025 12Z</b>"

fig.update_layout(
    width=W, height=H,
    margin=dict(l=L, r=W - R, t=T, b=H - B, pad=0, autoexpand=False),
    paper_bgcolor="black", plot_bgcolor="black",
    font=dict(family=FONT, color="white", size=10.5),
    showlegend=False,
    title=dict(text=title_txt, x=0.5, xref="paper", xanchor="center",
               y=1 - 12 / H, yref="container", yanchor="middle",
               font=dict(family=FONT, size=18.8, color="white")),
    xaxis=dict(type="date", range=["2025-06-08 00:00", "2025-06-24 12:00"], automargin=False,
               tick0="2025-06-08", dtick=2 * 86400000, tickformat="%d%b %Hz",
               tickfont=dict(size=10.5), ticks="", ticklabelstandoff=5,
               showgrid=True, gridcolor=GRID, griddash="4px,4px", gridwidth=1,
               minor=dict(dtick=86400000, showgrid=True, gridcolor=GRID, griddash="4px,4px", gridwidth=1),
               showline=True, linecolor="white", linewidth=1, mirror=True, zeroline=False),
    yaxis=dict(range=[-10, 45], tick0=-10, dtick=5, ticks="", ticklabelstandoff=8, automargin=False,
               tickfont=dict(size=10.5),
               showgrid=True, gridcolor=GRID, griddash="4px,4px", gridwidth=1,
               zeroline=False, showline=True, linecolor="white", linewidth=1, mirror=True),
    yaxis2=dict(range=[0, 40], overlaying="y", side="right", automargin=False,
                tickmode="array", tickvals=prec_tickvals, ticktext=prec_ticktext,
                ticks="inside", ticklen=5, tickcolor="#e0e0e0", tickwidth=1,
                minor=dict(dtick=1, ticks="inside", ticklen=3.5, tickcolor="#e0e0e0", tickwidth=1, showgrid=False),
                ticklabelstandoff=5, tickfont=dict(size=10.5),
                showgrid=False, zeroline=False, showline=True, linecolor="#e0e0e0", linewidth=1),
    shapes=shapes,
    annotations=annotations,
)

fig.write_html("out.html", config={"displayModeBar": False},
               post_script="document.body.style.margin='0px';document.body.style.padding='0px';"
                           "document.body.style.overflow='hidden';")
